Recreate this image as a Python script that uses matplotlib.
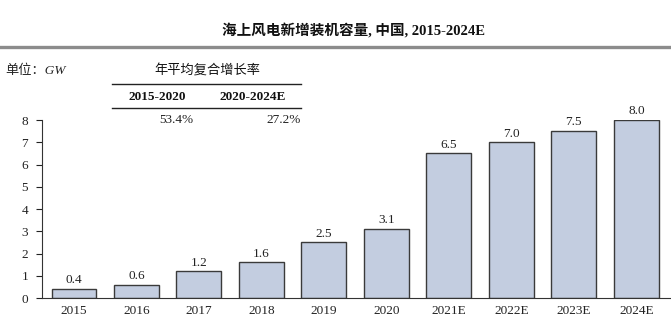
import numpy as np
import matplotlib.pyplot as plt
from matplotlib.lines import Line2D

plt.rcParams['font.family'] = ['Liberation Serif', 'Noto Sans CJK SC']

years = ['2015', '2016', '2017', '2018', '2019', '2020', '2021E', '2022E', '2023E', '2024E']
capacity = [0.4, 0.6, 1.2, 1.6, 2.5, 3.1, 6.5, 7.0, 7.5, 8.0]
cagr_periods = ['2015-2020', '2020-2024E']
cagr_values = ['53.4%', '27.2%']

fig = plt.figure(figsize=(6.71, 3.29), dpi=100)
ax = fig.add_axes([0.0626, 0.0942, 0.936, 0.541])

x = np.arange(len(years))
ax.bar(x, capacity, width=0.72, color='#c3cde0', edgecolor='#3a3a3a', linewidth=1.0)
for xi, v in zip(x, capacity):
    ax.text(xi, v + 0.12, f'{v:.1f}', ha='center', va='bottom', fontsize=9.5, color='#222222')

ax.set_xlim(-0.512, 9.54)
ax.set_ylim(0, 8)
ax.set_yticks(range(0, 9))
ax.set_xticks(x)
ax.set_xticklabels(years)
ax.tick_params(axis='x', length=0, pad=5, labelsize=9.5, colors='#222222')
ax.tick_params(axis='y', length=4, width=0.8, pad=6, labelsize=9.5, colors='#222222', direction='out')
for s in ['top', 'right']:
    ax.spines[s].set_visible(False)
ax.spines['left'].set_color('#333333')
ax.spines['bottom'].set_color('#333333')

def fy(py):
    # pixel row from the top -> figure fraction
    return 1 - py / 329

# title and header rule
fig.text(354 / 671, fy(31), '海上风电新增装机容量, 中国, 2015-2024E', ha='center', va='center',
         fontsize=10.5, fontweight='bold', color='#111111')
fig.add_artist(Line2D([0, 1], [fy(47)] * 2, color='#8c8c8c', lw=2.4, transform=fig.transFigure))

fig.text(5 / 671, fy(71), '单位：GW', ha='left', va='center', fontsize=9.5, style='italic', color='#222222')

# CAGR table
fig.text(207 / 671, fy(71), '年平均复合增长率', ha='center', va='center', fontsize=9.5, color='#111111')
for yy in [84, 108]:
    fig.add_artist(Line2D([112 / 671, 301 / 671], [fy(yy)] * 2, color='#222222', lw=1.0,
                          transform=fig.transFigure))
for cx, p in zip([157, 253], cagr_periods):
    fig.text(cx / 671, fy(97), p, ha='center', va='center', fontsize=9.5, fontweight='bold', color='#111111')
for rx, v in zip([193, 301], cagr_values):
    fig.text(rx / 671, fy(120), v, ha='right', va='center', fontsize=9.5, color='#222222')

fig.savefig('out.png', dpi=100)
